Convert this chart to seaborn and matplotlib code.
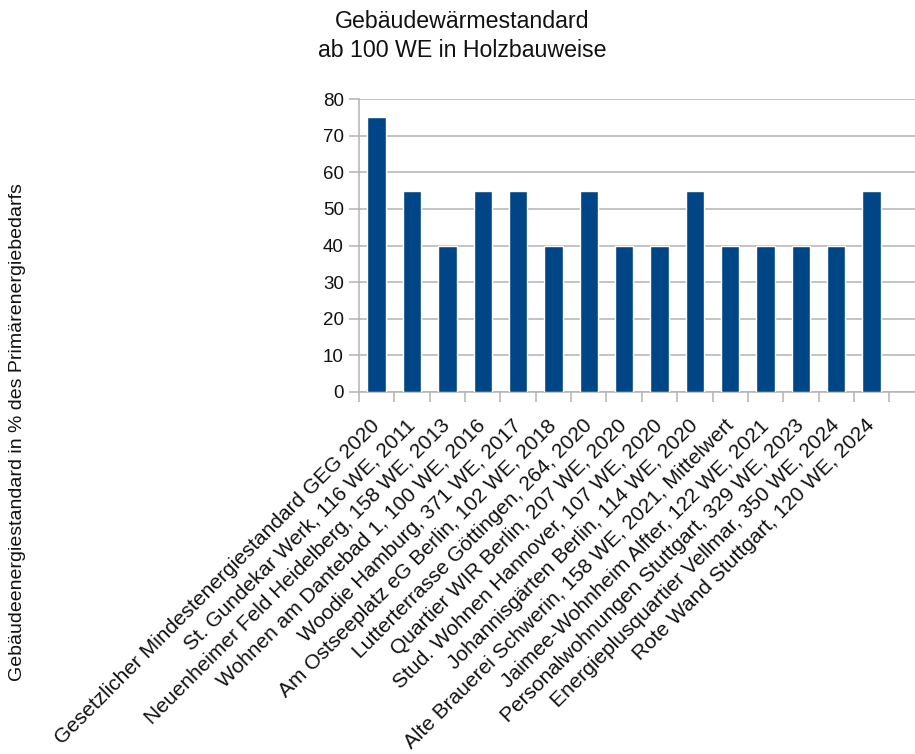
import matplotlib
matplotlib.use("Agg")
import matplotlib.pyplot as plt
import seaborn as sns
import numpy as np

projects = [
    "Gesetzlicher Mindestenergiestandard GEG 2020",
    "St. Gundekar Werk, 116 WE, 2011",
    "Neuenheimer Feld Heidelberg, 158 WE, 2013",
    "Wohnen am Dantebad 1, 100 WE, 2016",
    "Woodie Hamburg, 371 WE, 2017",
    "Am Ostseeplatz eG Berlin, 102 WE, 2018",
    "Lutterterrasse Göttingen, 264, 2020",
    "Quartier WIR Berlin, 207 WE, 2020",
    "Stud. Wohnen Hannover, 107 WE, 2020",
    "Johannisgärten Berlin, 114 WE, 2020",
    "Alte Brauerei Schwerin, 158 WE, 2021, Mittelwert",
    "Jaimee-Wohnheim Alfter, 122 WE, 2021",
    "Personalwohnungen Stuttgart, 329 WE, 2023",
    "Energieplusquartier Vellmar, 350 WE, 2024",
    "Rote Wand Stuttgart, 120 WE, 2024",
]
standard_pct = [75, 55, 40, 55, 55, 40, 55, 40, 40, 55, 40, 40, 40, 40, 55]
y_ticks = [0, 10, 20, 30, 40, 50, 60, 70, 80]

title_text = "Gebäudewärmestandard\nab 100 WE in Holzbauweise"
ylabel_text = "Gebäudeenergiestandard in % des Primärenergiebedarfs"

sns.set_style("white")
plt.rcParams["font.family"] = ["Liberation Sans", "DejaVu Sans"]

W, H = 915, 754
fig = plt.figure(figsize=(W / 100, H / 100), dpi=100)

# plot area in pixel coordinates
x0, x1 = 359, 915
y_top, y_bot = 99, 392
ax = fig.add_axes([x0 / W, 1 - y_bot / H, (x1 - x0) / W, (y_bot - y_top) / H])

bar_color = "#004586"
grid_color = "#b3b3b3"
text_color = "#111111"

sns.barplot(x=projects, y=standard_pct, order=projects, color=bar_color,
            width=0.52, saturation=1, ax=ax, zorder=3)

slot = 35.35
ax.set_xlim(-0.5, 14.5 + (x1 - 889.3) / slot)
ax.set_ylim(0, 80)
ax.set_yticks(y_ticks)
ax.set_yticklabels([str(v) for v in y_ticks], fontsize=13.5, color=text_color)
ax.yaxis.grid(True, color=grid_color, linewidth=1.1, zorder=0)
ax.set_axisbelow(True)

for side in ("top", "right"):
    ax.spines[side].set_visible(False)
for side in ("left", "bottom"):
    ax.spines[side].set_color(grid_color)
    ax.spines[side].set_linewidth(1.1)

ax.tick_params(axis="y", which="major", direction="out", length=7,
               width=1.1, color=grid_color, pad=4, left=True)

# category boundary ticks
ax.set_xticks(np.arange(-0.5, len(projects)), minor=True)
ax.tick_params(axis="x", which="minor", direction="out", length=7,
               width=1.1, color=grid_color, bottom=True)
ax.tick_params(axis="x", which="major", length=0, pad=22)
ax.set_xticks(range(len(projects)))
ax.set_xticklabels(projects, rotation=45, ha="right", va="center",
                   rotation_mode="anchor", fontsize=15, color=text_color)
ax.set_xlabel("")
ax.set_ylabel("")

fig.text(462 / W, 1 - 36 / H, title_text, ha="center", va="center",
         fontsize=16.7, color=text_color, linespacing=1.38)
fig.text(18 / W, 1 - 432 / H, ylabel_text, ha="center", va="center",
         rotation=90, fontsize=14, color=text_color)

fig.savefig("out.png", dpi=100)
